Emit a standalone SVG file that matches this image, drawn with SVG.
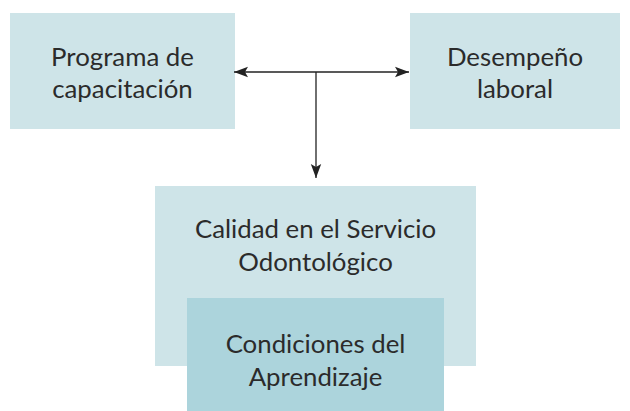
<svg xmlns="http://www.w3.org/2000/svg" width="630" height="411" viewBox="0 0 630 411">
<style>
.light{fill:#cee4e8}
.dark{fill:#acd4dc}
text{font-family:Lato,"Open Sans",sans-serif;font-size:25.8px;fill:#2b2b2b;text-anchor:middle}
.conn{stroke:#222;stroke-width:1.3;fill:none}
</style>
<defs>
<marker id="ah" viewBox="0 0 14 12" refX="14" refY="6" markerWidth="14" markerHeight="12" markerUnits="userSpaceOnUse" orient="auto-start-reverse">
<path d="M0,0.8 L14,6 L0,11.2 L3,6 Z" fill="#222"/>
</marker>
</defs>
<rect width="630" height="411" fill="#fff"/>
<g id="programa">
<rect class="light" x="10" y="13" width="225" height="116"/>
<text x="122.5" y="66">Programa de</text>
<text x="122.5" y="98">capacitación</text>
</g>
<g id="desempeno">
<rect class="light" x="410" y="13" width="210" height="116"/>
<text x="515" y="66">Desempeño</text>
<text x="515" y="98">laboral</text>
</g>
<g id="calidad">
<rect class="light" x="155" y="186" width="321" height="180"/>
<text x="315.5" y="238">Calidad en el Servicio</text>
<text x="315.5" y="271">Odontológico</text>
</g>
<g id="condiciones">
<rect class="dark" x="187" y="298" width="257" height="113"/>
<text x="315.5" y="353">Condiciones del</text>
<text x="315.5" y="386">Aprendizaje</text>
</g>
<g id="connectors">
<path class="conn" d="M234,72 L409,72" marker-start="url(#ah)" marker-end="url(#ah)"/>
<path class="conn" d="M316,72 L316,178" marker-end="url(#ah)"/>
</g>
</svg>
